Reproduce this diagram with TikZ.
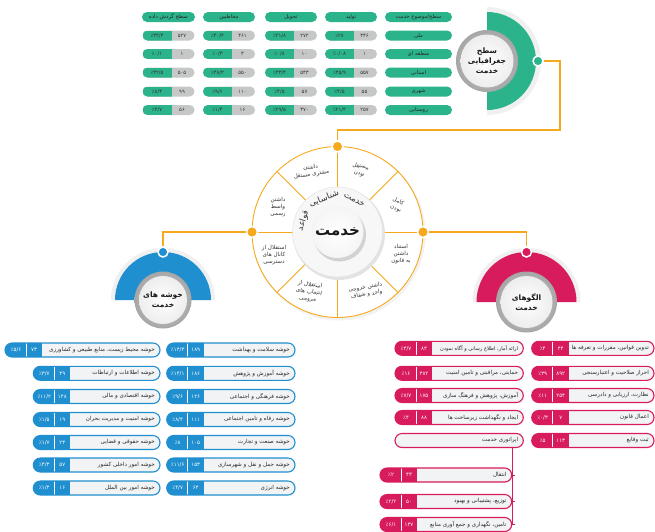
\documentclass[tikz,border=0pt]{standalone}
\usepackage{fontspec}
\setmainfont{DejaVu Sans}
\newfontfamily\arabicfont[Script=Arabic]{DejaVu Sans}
\newfontfamily\numfont{DejaVu Sans}
\TeXXeTstate=1
\newcommand\prs[1]{{\arabicfont #1}}
\definecolor{tgreen}{HTML}{2BB38B}
\definecolor{tblue}{HTML}{1F8FD0}
\definecolor{tred}{HTML}{D81B5C}
\definecolor{torange}{HTML}{F7A91E}
\definecolor{cellgray}{HTML}{C6C8C8}
\definecolor{pillbg}{HTML}{F1F3F4}
% list pill: name, color, xl, xr, y, pct, num, text
\newcommand\lpill[8]{%
  \node[listbox, draw=#2, minimum width={#4pt-#3pt},
    path picture={\fill[#2, sharp corners] (path picture bounding box.south west) rectangle ([xshift=37pt]path picture bounding box.north west);
      \draw[white, line width=0.7pt, sharp corners] ([xshift=21pt]path picture bounding box.south west) -- ([xshift=21pt]path picture bounding box.north west);}]
    (#1) at ({(#3+#4)/2},-#5) {};
  \node[listnum] (#1p) at ({#3+11},-#5) {#6};
  \node[listnum] (#1n) at ({#3+29},-#5) {#7};
  \node[listlbl] (#1t) at ({#4-5},-#5) {\prs{#8}};
}
% table cell: name, x, y, pct, num
\newcommand\tcell[5]{%
  \node[cellbox, path picture={\fill[tgreen, sharp corners] (path picture bounding box.south west) rectangle ([xshift=29pt]path picture bounding box.north west);}]
    (#1) at (#2,-#3) {};
  \node[celltxt] (#1p) at ({#2-11.5},-#3) {#4};
  \node[celltxt] (#1n) at ({#2+13.5},-#3) {#5};
}
\begin{document}
\begin{tikzpicture}[x=1pt,y=1pt,
  gpill/.style={rounded corners=5pt, fill=tgreen, minimum height=10pt, inner sep=0pt, text=black!85, font=\fontsize{5.3}{6}\selectfont},
  cellbox/.style={rounded corners=5pt, fill=cellgray, minimum width=52pt, minimum height=10pt, inner sep=0pt},
  celltxt/.style={inner sep=0pt, text=black!80, font=\numfont\fontsize{5.2}{6}\selectfont},
  listbox/.style={rounded corners=7pt, minimum height=14pt, inner sep=0pt, fill=pillbg, line width=1.1pt},
  listnum/.style={inner sep=0pt, text=white, font=\numfont\fontsize{5.4}{6}\selectfont},
  listlbl/.style={inner sep=0pt, anchor=east, text=black!85, font=\fontsize{5.6}{6.5}\selectfont},
  oline/.style={draw=torange, line width=1.1pt},
  dotst/.style={circle, inner sep=0pt, minimum size=10pt, draw=white, line width=1.5pt},
  segtxt/.style={align=center, inner sep=0pt, text=black!80, font=\fontsize{5.6}{7.2}\selectfont},
  titletxt/.style={align=center, inner sep=0pt, text=black!90, font=\bfseries\fontsize{7.5}{10}\selectfont},
  arctxt/.style={inner sep=0pt, text=black!80, font=\fontsize{8.5}{9}\selectfont}
]
\useasboundingbox (0,0) rectangle (655,-531);
\fill[white] (0,0) rectangle (655,-531);

% ---------------- table ----------------
\node[gpill, minimum width=53pt] (h1) at (168.5,-17) {\prs{\beginR سطح گردش داده\endR}};
\node[gpill, minimum width=52pt] (h2) at (229,-17) {\prs{\beginR مخاطبین\endR}};
\node[gpill, minimum width=52pt] (h3) at (291,-17) {\prs{\beginR تحویل\endR}};
\node[gpill, minimum width=52pt] (h4) at (351,-17) {\prs{\beginR تولید\endR}};
\node[gpill, minimum width=67pt] (h5) at (418.5,-17) {\prs{\beginR سطح/موضوع خدمت\endR}};
\node[gpill, minimum width=67pt] (l1) at (418.5,-35.5) {\prs{\beginR ملی\endR}};
\node[gpill, minimum width=67pt] (l2) at (418.5,-54) {\prs{\beginR منطقه ای\endR}};
\node[gpill, minimum width=67pt] (l3) at (418.5,-72.5) {\prs{\beginR استانی\endR}};
\node[gpill, minimum width=67pt] (l4) at (418.5,-91.5) {\prs{\beginR شهری\endR}};
\node[gpill, minimum width=67pt] (l5) at (418.5,-110) {\prs{\beginR روستایی\endR}};

\tcell{c14}{351}{35.5}{٪۲۸}{۳۴۶}
\tcell{c13}{291}{35.5}{٪۲۱/۸}{۲۷۲}
\tcell{c12}{229}{35.5}{٪۴۰/۴}{۴۶۱}
\tcell{c11}{168.5}{35.5}{٪۴۴/۳}{۵۲۷}
\tcell{c24}{351}{54}{٪۰/۰۸}{۱}
\tcell{c23}{291}{54}{٪۰/۸}{۱۰}
\tcell{c22}{229}{54}{٪۰/۳}{۳}
\tcell{c21}{168.5}{54}{٪۰/۱}{۱}
\tcell{c34}{351}{72.5}{٪۴۵/۹}{۵۵۷}
\tcell{c33}{291}{72.5}{٪۴۳/۴}{۵۴۳}
\tcell{c32}{229}{72.5}{٪۴۸/۳}{۵۵۰}
\tcell{c31}{168.5}{72.5}{٪۴۲/۵}{۵۰۵}
\tcell{c44}{351}{91.5}{٪۴/۵}{۵۵}
\tcell{c43}{291}{91.5}{٪۴/۵}{۵۷}
\tcell{c42}{229}{91.5}{٪۹/۶}{۱۱۰}
\tcell{c41}{168.5}{91.5}{٪۸/۴}{۹۹}
\tcell{c54}{351}{110}{٪۲۱/۳}{۲۵۷}
\tcell{c53}{291}{110}{٪۲۹/۵}{۳۷۰}
\tcell{c52}{229}{110}{٪۱/۴}{۱۶}
\tcell{c51}{168.5}{110}{٪۴/۷}{۵۶}

% ---------------- geographic level circle ----------------
\coordinate (G) at (487,-61);
\fill[gray!12] (487,-7) arc[start angle=90, end angle=-90, radius=54] -- cycle;
\fill[tgreen] (487,-12) arc[start angle=90, end angle=-90, radius=49] -- cycle;
\shade[outer color=gray!70, inner color=gray!30] (G) circle (31);
\shade[inner color=white, outer color=gray!14] (G) circle (26.5);
\node[titletxt] (gt) at (G) {\prs{\beginR سطح\endR}\\\prs{\beginR جغرافیایی\endR}\\\prs{\beginR خدمت\endR}};
\node[dotst, fill=tgreen] (gdot) at (538,-61) {};

% ---------------- central circle ----------------
\coordinate (C) at (337.5,-232);
\fill[gray!10] ([shift={(1.5,-2)}]C) circle (86.5);
\fill[white] (C) circle (85.5);
\foreach \a in {0,45,...,315}
  \draw[oline, line width=0.9pt] ([shift={(\a:45)}]C) -- ([shift={(\a:85.5)}]C);
\draw[oline, line width=0.9pt] (C) circle (85.5);
\fill[gray!22] ([shift={(1.5,-2)}]C) circle (46);
\fill[gray!6] (C) circle (45);
\draw[gray!25, line width=0.4pt] (C) circle (45);
\fill[gray!35] ([shift={(2,-3)}]C) circle (26.5);
\shade[inner color=white, outer color=gray!8] (C) circle (26);
\node[inner sep=0pt, font=\bfseries\fontsize{15}{16}\selectfont, text=black!90] (core) at (C) {\prs{\beginR خدمت\endR}};
\node[arctxt, rotate=72] (w1) at ([shift={(162:36)}]C) {\prs{\beginR قواعد\endR}};
\node[arctxt, rotate=22] (w2) at ([shift={(112:36)}]C) {\prs{\beginR شناسایی\endR}};
\node[arctxt, rotate=-28] (w3) at ([shift={(62:36)}]C) {\prs{\beginR خدمت\endR}};

\node[segtxt, rotate=-12] (t1) at (360,-170) {\prs{\beginR مستقل\endR}\\\prs{\beginR بودن\endR}};
\node[segtxt, rotate=-20] (t2) at (397,-205) {\prs{\beginR کامل\endR}\\\prs{\beginR بودن\endR}};
\node[segtxt] (t3) at (401,-254) {\prs{\beginR استناد\endR}\\\prs{\beginR داشتن\endR}\\\prs{\beginR به قانون\endR}};
\node[segtxt, rotate=10] (t4) at (366,-291) {\prs{\beginR داشتن خروجی\endR}\\\prs{\beginR واحد و شفاف\endR}};
\node[segtxt, rotate=-8] (t5) at (309,-292) {\prs{\beginR استقلال از\endR}\\\prs{\beginR انتخاب های\endR}\\\prs{\beginR خروجی\endR}};
\node[segtxt] (t6) at (274,-255) {\prs{\beginR استقلال از\endR}\\\prs{\beginR کانال های\endR}\\\prs{\beginR دسترسی\endR}};
\node[segtxt] (t7) at (278,-207) {\prs{\beginR داشتن\endR}\\\prs{\beginR واسط\endR}\\\prs{\beginR رسمی\endR}};
\node[segtxt, rotate=8] (t8) at (311,-171) {\prs{\beginR داشتن\endR}\\\prs{\beginR مشتری مستقل\endR}};

\node[dotst, fill=torange, minimum size=11pt] (dtop) at (337.5,-146.5) {};
\node[dotst, fill=torange, minimum size=11pt] (dleft) at (252,-232) {};
\node[dotst, fill=torange, minimum size=11pt] (dright) at (423,-232) {};

% ---------------- blue cluster circle ----------------
\coordinate (B) at (163,-300);
\fill[gray!12] (111,-300) arc[start angle=180, end angle=0, radius=52] -- cycle;
\fill[tblue] (115,-300) arc[start angle=180, end angle=0, radius=48] -- cycle;
\shade[outer color=gray!70, inner color=gray!30] (B) circle (28.5);
\shade[inner color=white, outer color=gray!14] (B) circle (24);
\node[titletxt] (bt) at (B) {\prs{\beginR خوشه های\endR}\\\prs{\beginR خدمت\endR}};
\node[dotst, fill=tblue] (bdot) at (163,-252) {};

% ---------------- red pattern circle ----------------
\coordinate (R) at (526.5,-302);
\fill[gray!12] (472.5,-302) arc[start angle=180, end angle=0, radius=54] -- cycle;
\fill[tred] (476.5,-302) arc[start angle=180, end angle=0, radius=50] -- cycle;
\shade[outer color=gray!70, inner color=gray!30] (R) circle (30.5);
\shade[inner color=white, outer color=gray!14] (R) circle (26);
\node[titletxt] (rt) at (R) {\prs{\beginR الگوهای\endR}\\\prs{\beginR خدمت\endR}};
\node[dotst, fill=tred] (rdot) at (526.5,-252) {};

% ---------------- orange connectors ----------------
\coordinate (k1) at (337.5,-130);
\coordinate (k2) at (560,-130);
\coordinate (k3) at (560,-61);
\draw[oline] (dtop) -- (k1) -- (k2) -- (k3) -- (gdot);
\coordinate (k4) at (163,-232);
\draw[oline] (dleft) -- (k4) -- (bdot);
\coordinate (k5) at (526.5,-232);
\draw[oline] (dright) -- (k5) -- (rdot);

% ---------------- blue lists ----------------
\lpill{b1}{tblue}{166.7}{295}{350}{٪۱۴/۳}{۱۸۹}{\beginR خوشه سلامت و بهداشت\endR}
\lpill{b2}{tblue}{166.7}{295}{373.3}{٪۱۴/۱}{۱۸۶}{\beginR خوشه آموزش و پژوهش\endR}
\lpill{b3}{tblue}{166.7}{295}{396.5}{٪۹/۶}{۱۲۶}{\beginR خوشه فرهنگی و اجتماعی\endR}
\lpill{b4}{tblue}{166.7}{295}{419.5}{٪۸/۴}{۱۱۱}{\beginR خوشه رفاه و تامین اجتماعی\endR}
\lpill{b5}{tblue}{166.7}{295}{442.5}{٪۸}{۱۰۵}{\beginR خوشه صنعت و تجارت\endR}
\lpill{b6}{tblue}{166.7}{295}{465}{٪۱۱/۶}{۱۵۳}{\beginR خوشه حمل و نقل و شهرسازی\endR}
\lpill{b7}{tblue}{166.7}{295}{488}{٪۴/۷}{۶۳}{\beginR خوشه انرژی\endR}
\lpill{a1}{tblue}{5}{160}{350}{٪۵/۶}{۷۳}{\beginR خوشه محیط زیست، منابع طبیعی و کشاورزی\endR}
\lpill{a2}{tblue}{33.3}{160}{373.3}{٪۳/۷}{۴۹}{\beginR خوشه اطلاعات و ارتباطات\endR}
\lpill{a3}{tblue}{33.3}{160}{396.5}{٪۱۱/۲}{۱۴۸}{\beginR خوشه اقتصادی و مالی\endR}
\lpill{a4}{tblue}{33.3}{160}{419.5}{٪۱/۵}{۱۹}{\beginR خوشه امنیت و مدیریت بحران\endR}
\lpill{a5}{tblue}{33.3}{160}{442.5}{٪۱/۷}{۲۳}{\beginR خوشه حقوقی و قضایی\endR}
\lpill{a6}{tblue}{33.3}{160}{465}{٪۴/۳}{۵۷}{\beginR خوشه امور داخلی کشور\endR}
\lpill{a7}{tblue}{33.3}{160}{488}{٪۱/۳}{۱۶}{\beginR خوشه امور بین الملل\endR}

% ---------------- red lists ----------------
\lpill{r1}{tred}{531.7}{654}{348.3}{٪۴}{۴۴}{\beginR تدوین قوانین، مقررات و تعرفه ها\endR}
\lpill{r2}{tred}{531.7}{654}{373.3}{٪۳۹}{۸۹۲}{\beginR احراز صلاحیت و اعتبارسنجی\endR}
\lpill{r3}{tred}{531.7}{654}{395.5}{٪۱۱}{۲۵۴}{\beginR نظارت، ارزیابی و دادرسی\endR}
\lpill{r4}{tred}{531.7}{654}{417.5}{٪۰/۳}{۷}{\beginR اعمال قانون\endR}
\lpill{r5}{tred}{531.7}{654}{440.5}{٪۵}{۱۱۳}{\beginR ثبت وقایع\endR}
\lpill{q1}{tred}{395}{523.3}{348.3}{٪۳/۷}{۸۳}{\fontsize{5.1}{6}\selectfont\beginR ارائه آمار، اطلاع رسانی و آگاه نمودن\endR}
\lpill{q2}{tred}{395}{523.3}{373.3}{٪۱۶}{۳۸۲}{\beginR حمایتی، مراقبتی و تامین امنیت\endR}
\lpill{q3}{tred}{395}{523.3}{395.5}{٪۷/۷}{۱۷۵}{\beginR آموزش، پژوهش و فرهنگ سازی\endR}
\lpill{q4}{tred}{395}{523.3}{417.5}{٪۴}{۸۸}{\beginR ایجاد و نگهداشت زیرساخت ها\endR}
\node[listbox, draw=tred, minimum width=128.3pt] (op) at (459.15,-440.5) {};
\node[listlbl] (opt) at (518.3,-440.5) {\prs{\beginR اپراتوری خدمت\endR}};
\lpill{s1}{tred}{380}{511.7}{475}{٪۲}{۴۳}{\beginR انتقال\endR}
\lpill{s2}{tred}{380}{511.7}{501.5}{٪۲/۲}{۵۰}{\beginR توزیع، پشتیبانی و بهبود\endR}
\lpill{s3}{tred}{380}{511.7}{524.5}{٪۶/۱}{۱۳۷}{\beginR تامین، نگهداری و جمع آوری منابع\endR}
\draw[tred, line width=1pt] (op.south -| s1.east) -- (s3.east);
\draw[tred, line width=1pt] (s1.east) -- ++(2.5,0);
\draw[tred, line width=1pt] (s2.east) -- ++(2.5,0);
\draw[tred, line width=1pt] (s3.east) -- ++(2.5,0);
\end{tikzpicture}
\end{document}
